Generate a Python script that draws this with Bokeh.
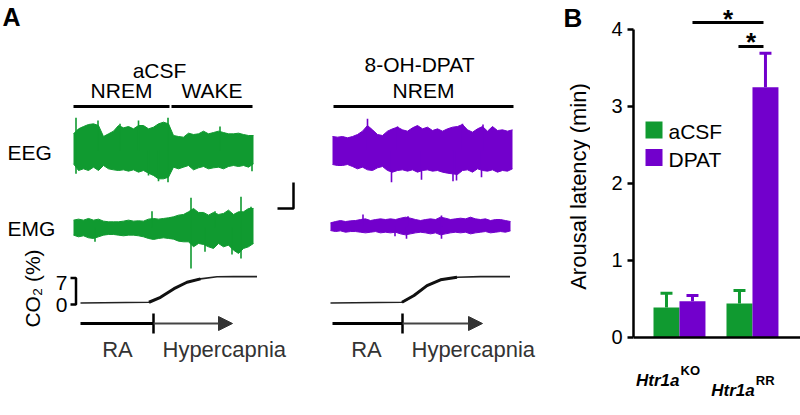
import math
from bokeh.plotting import figure
from bokeh.models import Range1d, FixedTicker, Arrow, NormalHead, Span
from bokeh.layouts import row
from bokeh.embed import file_html
from bokeh.resources import INLINE
from bokeh.core.properties import value

FONT = "Liberation Sans"
GREEN = "#109a30"
PURPLE = "#7200cc"
GREY = "#333333"

# ---------------- Panel B data ----------------
genotypes = ["KO", "RR"]
gene_name = "Htr1a"
treatments = ["aCSF", "DPAT"]
acsf_mean = [0.39, 0.44]
acsf_sem = [0.185, 0.17]
dpat_mean = [0.47, 3.25]
dpat_sem = [0.075, 0.44]
y_ticks = [0, 1, 2, 3, 4]
y_label = "Arousal latency (min)"
sig_mark = "*"

# ---------------- Panel A data ----------------
conditions = ["aCSF", "8-OH-DPAT"]
states_acsf = ["NREM", "WAKE"]
state_acsf_t = [(0.0, 19.2), (19.6, 35.8)]
states_dpat = ["NREM"]
state_dpat_t = [(0.2, 36.2)]
DT = 1.0  # s between envelope samples

# EEG / EMG envelopes (a.u.), upper and lower
acsf_eeg_top = [50, 65, 72, 78, 80, 75, 42, 50, 58, 75, 68, 72, 65, 75, 75, 65, 70, 80, 85, 80,
                45, 42, 40, 52, 48, 50, 58, 50, 54, 58, 54, 50, 50, 52, 48, 45, 45]
acsf_eeg_bot = [-40, -60, -55, -60, -50, -60, -45, -55, -58, -60, -58, -62, -58, -65, -60, -68, -75, -85, -85, -80,
                -50, -55, -50, -45, -58, -52, -48, -55, -52, -50, -55, -48, -45, -48, -45, -50, -40]
acsf_eeg_spk_t = [0.5, 4.9, 9.3, 13.0, 18.9, 0.5, 15.0, 17.0, 18.9, 29.3, 35.7]
acsf_eeg_spk_a = [98, 90, 80, 90, 98, -70, -75, -92, -95, 72, -62]

acsf_emg_top = [23, 26, 23, 28, 23, 26, 20, 18, 18, 18, 20, 23, 20, 21, 20, 26, 28, 26, 28, 30,
                33, 38, 40, 48, 58, 46, 46, 38, 46, 40, 43, 53, 40, 48, 48, 58, 58]
acsf_emg_bot = [-22, -27, -24, -30, -32, -27, -22, -20, -20, -22, -24, -22, -22, -24, -27, -32, -35, -32, -30, -32,
                -34, -40, -42, -42, -57, -47, -50, -57, -62, -47, -57, -52, -67, -77, -62, -57, -47]
acsf_emg_spk_t = [15.7, 23.5, 33.5, 28.3, 35.5, 4.3, 23.5, 33.5, 26.3, 31.7]
acsf_emg_spk_a = [50, 90, 93, 50, 63, -42, -122, -92, -72, -80]

dpat_eeg_top = [42, 40, 42, 38, 42, 48, 58, 75, 62, 48, 45, 58, 65, 70, 62, 58, 68, 75, 65, 70,
                60, 65, 58, 65, 70, 72, 78, 62, 55, 65, 72, 58, 72, 60, 62, 58, 62]
dpat_eeg_bot = [-42, -45, -45, -42, -48, -55, -50, -58, -60, -52, -48, -60, -65, -60, -58, -62, -58, -65, -60, -58,
                -62, -60, -65, -68, -70, -72, -60, -58, -65, -55, -60, -62, -58, -65, -60, -62, -55]
dpat_eeg_spk_t = [7.0, 13.0, 26.0, 30.1, 11.8, 17.8, 24.1, 24.8, 29.8]
dpat_eeg_spk_a = [95, 72, 80, 78, -95, -88, -92, -90, -80]

dpat_emg_top = [10, 14, 17, 14, 16, 17, 20, 22, 17, 20, 22, 20, 22, 20, 24, 27, 24, 20, 17, 20,
                22, 20, 27, 24, 20, 22, 24, 22, 27, 22, 20, 22, 17, 20, 20, 17, 14]
dpat_emg_bot = [-13, -16, -14, -18, -16, -16, -18, -20, -18, -16, -20, -18, -20, -18, -23, -26, -23, -20, -18, -20,
                -23, -20, -26, -23, -20, -18, -20, -18, -23, -20, -18, -16, -20, -18, -16, -18, -14]
dpat_emg_spk_t = [15.5, 6.5, 22.2, 15.2, 22.2, 12.9]
dpat_emg_spk_a = [30, 35, 32, -38, -38, -30]

# CO2 (%) over time (s)
co2_acsf_t = [1.4, 15.1, 17.4, 20.1, 22.7, 25.4, 28.7, 32.0, 36.7]
co2_acsf = [0.0, 0.2, 1.5, 3.8, 5.5, 6.4, 6.95, 7.0, 7.0]
co2_dpat_t = [0.0, 14.3, 16.7, 19.3, 22.0, 25.3, 30.0, 35.9]
co2_dpat = [0.0, 0.2, 2.0, 4.6, 6.15, 6.85, 7.0, 7.0]
co2_scale = [0, 7]
# timeline: RA start, hypercapnia onset, end (s)
timeline_acsf = [1.4, 16.0, 31.8]
timeline_dpat = [0.4, 14.4, 30.4]
phase_labels = ["RA", "Hypercapnia"]

# ---------------- layout constants (page px) ----------------
PX_PER_S = 5.0
AMP_PX = 1.0 / 3.0
CO2_PX = 3.77
XL = 73.0
XR_EEG = 332.0
XR = 330.0
EEG_Y = 150.0
EMG_YL = 227.3
EMG_YR = 225.7
CO2_BASE = 302.5
TL_Y = 323.0

# ================= Panel A (plus B's letter and y title) =================
pA = figure(width=590, height=415, x_range=Range1d(0, 590), y_range=Range1d(415, 0),
            x_axis_type=None, y_axis_type=None, toolbar_location=None,
            output_backend="svg", min_border=0, outline_line_color=None)


def txt(p, x, y, s, size, align="left", baseline="middle", style="normal",
        color="black", angle=0.0):
    p.text(x=[x], y=[y], text=[s], text_font=value(FONT), text_font_size=f"{size}px",
           text_align=align, text_baseline=baseline, text_font_style=style,
           text_color=color, angle=angle)


def draw_trace(p, x0, y0, top, bot, sp_t, sp_a, color):
    xs = [x0 + i * DT * PX_PER_S for i in range(len(top))]
    up = [y0 - a * AMP_PX for a in top]
    lo = [y0 - a * AMP_PX for a in bot]
    p.varea(x=xs, y1=up, y2=lo, fill_color=color)
    p.line(xs, up, line_color=color, line_width=1)
    p.line(xs, lo, line_color=color, line_width=1)
    sx = [x0 + t * PX_PER_S for t in sp_t]
    p.segment(x0=sx, y0=[y0] * len(sx), x1=sx, y1=[y0 - a * AMP_PX for a in sp_a],
              line_color=color, line_width=1.6)


def draw_co2(p, x0, ts, vals):
    xs = [x0 + t * PX_PER_S for t in ts]
    ys = [CO2_BASE - v * CO2_PX for v in vals]
    p.line(xs, ys, line_color="#222222", line_width=1.6)
    p.line(xs[1:6], ys[1:6], line_color="#111111", line_width=3)


def draw_timeline(p, x0, tl):
    xa, xt, xe = [x0 + t * PX_PER_S for t in tl]
    p.add_layout(Arrow(end=NormalHead(size=14, fill_color=GREY, line_color=GREY),
                       x_start=xt, y_start=TL_Y, x_end=xe, y_end=TL_Y,
                       line_color="#444444", line_width=2))
    p.segment(x0=[xa], y0=[TL_Y], x1=[xt], y1=[TL_Y], line_color="black", line_width=3)
    p.segment(x0=[xt], y0=[TL_Y - 10], x1=[xt], y1=[TL_Y + 10], line_color="black", line_width=2.5)
    txt(p, xt - 36, 348.5, phase_labels[0], 22, align="center", color=GREY)
    txt(p, xt + 9, 348.5, phase_labels[1], 22, align="left", color=GREY)


txt(pA, 2, 16.5, "A", 25, style="bold")

# condition headers and state bars
txt(pA, 159, 69.5, conditions[0], 21, align="center")
for s, (t0, t1) in zip(states_acsf, state_acsf_t):
    x0, x1 = XL + t0 * PX_PER_S, XL + t1 * PX_PER_S
    pA.segment(x0=[x0], y0=[106], x1=[x1], y1=[106], line_color="black", line_width=3)
    txt(pA, (x0 + x1) / 2, 90, s, 21, align="center")
txt(pA, 419, 63.5, conditions[1], 21, align="center")
for s, (t0, t1) in zip(states_dpat, state_dpat_t):
    x0, x1 = XR_EEG + t0 * PX_PER_S, XR_EEG + t1 * PX_PER_S
    pA.segment(x0=[x0], y0=[106], x1=[x1], y1=[106], line_color="black", line_width=3)
    txt(pA, (x0 + x1) / 2, 90, s, 21, align="center")

txt(pA, 7, 151.7, "EEG", 21)
txt(pA, 7, 228, "EMG", 21)

draw_trace(pA, XL, EEG_Y, acsf_eeg_top, acsf_eeg_bot, acsf_eeg_spk_t, acsf_eeg_spk_a, GREEN)
draw_trace(pA, XL, EMG_YL, acsf_emg_top, acsf_emg_bot, acsf_emg_spk_t, acsf_emg_spk_a, GREEN)
draw_trace(pA, XR_EEG, EEG_Y, dpat_eeg_top, dpat_eeg_bot, dpat_eeg_spk_t, dpat_eeg_spk_a, PURPLE)
draw_trace(pA, XR, EMG_YR, dpat_emg_top, dpat_emg_bot, dpat_emg_spk_t, dpat_emg_spk_a, PURPLE)

# scale bar
pA.line([277, 293, 293], [208, 208, 182], line_color="black", line_width=2.5)

# CO2 traces + scale
draw_co2(pA, XL, co2_acsf_t, co2_acsf)
draw_co2(pA, XR, co2_dpat_t, co2_dpat)
yb = [CO2_BASE + 1.5 - v * CO2_PX for v in co2_scale]
pA.line([70, 75.5, 75.5, 70], [yb[1], yb[1], yb[0], yb[0]], line_color="black", line_width=2.5)
txt(pA, 67, 282, str(co2_scale[1]), 21, align="right")
txt(pA, 67, 304.5, str(co2_scale[0]), 21, align="right")
txt(pA, 32, 288, "CO\u2082 (%)", 21, align="center", angle=math.pi / 2)

draw_timeline(pA, XL, timeline_acsf)
draw_timeline(pA, XR, timeline_dpat)

# panel B letter and y-axis title (left gutter of panel B)
txt(pA, 563, 17, "B", 26, style="bold")
txt(pA, 577.5, 186, y_label, 22, align="center", angle=math.pi / 2)

# ================= Panel B =================
pB = figure(width=210, height=415, x_range=Range1d(0.370, 2.658), y_range=Range1d(-1.013, 4.3766),
            x_axis_type=None, toolbar_location=None, output_backend="svg",
            min_border_left=43, min_border_right=0, min_border_top=0, min_border_bottom=0,
            outline_line_color=None)
pB.grid.visible = False

ya = pB.yaxis[0]
ya.ticker = FixedTicker(ticks=y_ticks)
ya.bounds = (0, 4)
ya.axis_line_width = 2.5
ya.axis_line_color = "black"
ya.major_tick_line_width = 2.5
ya.major_tick_line_color = "black"
ya.major_tick_out = 6
ya.major_tick_in = 0
ya.minor_tick_line_color = None
ya.major_label_text_font = FONT
ya.major_label_text_font_size = "20px"
ya.major_label_text_color = "black"
ya.major_label_standoff = 5

# category baseline (x axis line)
pB.add_layout(Span(location=0, dimension="width", line_color="black", line_width=2.5))

BW = 0.356
gx = [i + 1 for i in range(len(genotypes))]
xs_a = [g - BW / 2 for g in gx]
xs_d = [g + BW / 2 for g in gx]
pB.vbar(x=xs_a, top=acsf_mean, width=BW, fill_color=GREEN, line_color=None)
pB.vbar(x=xs_d, top=dpat_mean, width=BW, fill_color=PURPLE, line_color=None)
CAP = 0.082
for xs, m, e, c in [(xs_a, acsf_mean, acsf_sem, GREEN), (xs_d, dpat_mean, dpat_sem, PURPLE)]:
    tops = [mi + ei for mi, ei in zip(m, e)]
    pB.segment(x0=xs, y0=m, x1=xs, y1=tops, line_color=c, line_width=3)
    pB.segment(x0=[x - CAP for x in xs], y0=tops, x1=[x + CAP for x in xs], y1=tops,
               line_color=c, line_width=3)

# significance
pB.segment(x0=[1.178, 1.808], y0=[4.091, 3.779], x1=[2.151, 2.151], y1=[4.091, 3.779],
           line_color="black", line_width=3)
pB.text(x=[1.665, 1.98], y=[4.130, 3.838], text=[sig_mark, sig_mark], text_font=value(FONT),
        text_font_size="26px", text_font_style="bold", text_align="center",
        text_baseline="middle")

# legend
pB.rect(x=[0.651, 0.651], y=[2.695, 2.338], width=17, height=17, width_units="screen",
        height_units="screen", fill_color=[GREEN, PURPLE], line_color=None)
pB.text(x=[0.849, 0.849], y=[2.669, 2.312], text=treatments, text_font=value(FONT),
        text_font_size="21px", text_align="left", text_baseline="middle")

# category labels: gene name with superscript genotype (staggered)
lab_dx = [0.0, 0.03]
lab_dy = [-0.56, -0.69]
pB.text(x=[g + d for g, d in zip(gx, lab_dx)], y=lab_dy, text=[gene_name] * len(gx),
        text_align="right", text_baseline="middle",
        text_font=value(FONT), text_font_size="17px", text_font_style="bold italic",
        text_color="black")
pB.text(x=[g + d + 0.015 for g, d in zip(gx, lab_dx)], y=[d + 0.13 for d in lab_dy],
        text=genotypes, text_align="left", text_baseline="middle",
        text_font=value(FONT), text_font_size="13px", text_font_style="bold",
        text_color="black")

layout = row(pA, pB)
open("out.html", "w").write(file_html(layout, INLINE))
